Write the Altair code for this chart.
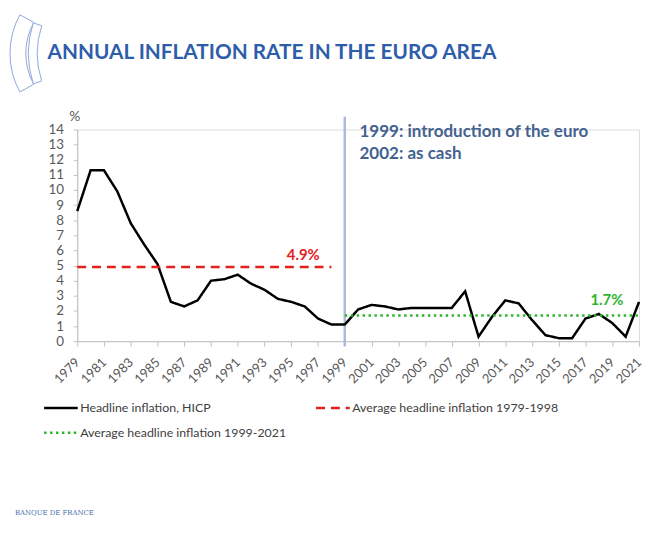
import altair as alt
import pandas as pd

# ---- data ----
years = list(range(1979, 2022))
hicp = [8.6, 11.3, 11.3, 9.9, 7.8, 6.4, 5.1, 2.6, 2.3, 2.7, 4.0, 4.1, 4.4, 3.8, 3.4,
        2.8, 2.6, 2.3, 1.5, 1.1, 1.1, 2.1, 2.4, 2.3, 2.1, 2.2, 2.2, 2.2, 2.2, 3.3,
        0.3, 1.6, 2.7, 2.5, 1.4, 0.4, 0.2, 0.2, 1.5, 1.8, 1.2, 0.3, 2.6]
series_names = ["Headline inflation, HICP",
                "Average headline inflation 1979-1998",
                "Average headline inflation 1999-2021"]
avg_early = 4.9
avg_early_years = [1979, 1998]
avg_late = 1.7
avg_late_years = [1999, 2021]
label_years = list(range(1979, 2022, 2))
y_ticks = list(range(0, 15))
euro_year = [1999]
notes = ["1999: introduction of the euro", "2002: as cash"]
note_x = [2000.1, 2000.1]
note_y = [13.8, 12.35]
avg_labels = ["4.9%", "1.7%"]
avg_label_x = [1995.9, 2018.6]
avg_label_y = [5.7, 2.75]
title_text = "ANNUAL INFLATION RATE IN THE EURO AREA"

rows = [{"year": y, "value": v, "series": series_names[0]} for y, v in zip(years, hicp)]
rows += [{"year": y, "value": avg_early, "series": series_names[1]} for y in avg_early_years]
rows += [{"year": y, "value": avg_late, "series": series_names[2]} for y in avg_late_years]
df = pd.DataFrame(rows)

W, H = 568, 214
FONT = "Lato"

xscale = alt.Scale(domain=[1979, 2021], nice=False, zero=False)
yscale = alt.Scale(domain=[0, 14], nice=False)

x_axis = alt.Axis(values=label_years, format="d", labelAngle=-45,
                  labelAlign="right", labelBaseline="middle",
                  labelFont=FONT, labelFontSize=13, labelColor="#595959",
                  labelPadding=14, tickSize=5, tickColor="#BFBFBF",
                  domainColor="#BFBFBF", grid=False, labelOverlap=False, title=None)
y_axis = alt.Axis(values=y_ticks, title="%", titleAngle=0, titleX=-3, titleY=-13,
                  titleAlign="center", titleBaseline="middle",
                  titleFont=FONT, titleFontSize=14, titleFontWeight="normal",
                  titleColor="#595959",
                  labelFont=FONT, labelFontSize=13.5, labelColor="#595959",
                  labelPadding=10, tickSize=4, tickColor="#BFBFBF",
                  domainColor="#BFBFBF", grid=False, labelOverlap=False)


def X(field):
    return alt.X(field, scale=xscale, axis=x_axis, title=None)


def Y(field):
    return alt.Y(field, scale=yscale, axis=y_axis, title="%")


legend = alt.Legend(orient="none", legendX=-35, legendY=263, columns=2, direction="horizontal",
                    columnPadding=24, rowPadding=-9, title=None, padding=0,
                    symbolType="stroke", symbolSize=1156,
                    symbolStrokeWidth=2.5, labelOffset=1,
                    labelFont=FONT, labelFontSize=12.5, labelColor="#404040",
                    labelLimit=400)

euro_rule = alt.Chart(pd.DataFrame({"year": euro_year})).mark_rule(
    color="#A9BBDA", strokeWidth=2.5
).encode(x=X("year:Q"), y=alt.value(-13), y2=alt.value(H + 5))

lines = alt.Chart(df).mark_line(strokeWidth=2.5).encode(
    x=X("year:Q"), y=Y("value:Q"),
    color=alt.Color("series:N",
                    scale=alt.Scale(domain=series_names, range=["#000000", "#E3211C", "#2DB52D"]),
                    legend=legend),
    strokeDash=alt.StrokeDash("series:N",
                              scale=alt.Scale(domain=series_names,
                                              range=[[1, 0], [9, 6], [2.5, 3.5]]),
                              legend=legend),
    order="year:Q",
)

avg_text = alt.Chart(pd.DataFrame({"x": avg_label_x, "y": avg_label_y, "t": avg_labels,
                                   "c": ["#E3211C", "#2DB52D"]})).mark_text(
    font=FONT, fontSize=15, fontWeight="bold", align="center", baseline="middle"
).encode(x=X("x:Q"), y=Y("y:Q"), text="t:N", color=alt.Color("c:N", scale=None))

note_text = alt.Chart(pd.DataFrame({"x": note_x, "y": note_y, "t": notes})).mark_text(
    font=FONT, fontSize=17.2, fontWeight="bold", align="left", baseline="middle",
    color="#44628F"
).encode(x=X("x:Q"), y=Y("y:Q"), text="t:N")

# decorative header / logo
one = pd.DataFrame({"k": [0]})
outer = alt.Chart(one).mark_arc(radius=81, radius2=65, theta=4.21, theta2=5.215,
                                fill="white", stroke="#8EA7DA", strokeWidth=1).encode(
    x=alt.value(13), y=alt.value(-77))
inner = alt.Chart(one).mark_arc(radius=98, radius2=89, theta=4.393, theta2=5.032,
                                fill="white", stroke="#8EA7DA", strokeWidth=1).encode(
    x=alt.value(48.6), y=alt.value(-77))
title = alt.Chart(one).mark_text(text=title_text, font=FONT, fontSize=21, fontWeight="bold",
                                 color="#2E5DAA", align="left", baseline="middle").encode(
    x=alt.value(-30), y=alt.value(-77))
bdf = alt.Chart(one).mark_text(text="BANQUE DE FRANCE", font="DejaVu Serif", fontSize=7,
                               color="#4A6DB0", align="left", baseline="middle").encode(
    x=alt.value(-63), y=alt.value(388))

chart = alt.layer(outer, inner, title, euro_rule, lines, avg_text, note_text, bdf).properties(
    width=W, height=H,
    autosize=alt.AutoSizeParams(type="none"),
    padding={"left": 70, "top": 120, "right": 4, "bottom": 185},
).configure_view(stroke=None).configure(background="white")

chart.save("out.html", embed_options={"renderer": "svg", "actions": False})
